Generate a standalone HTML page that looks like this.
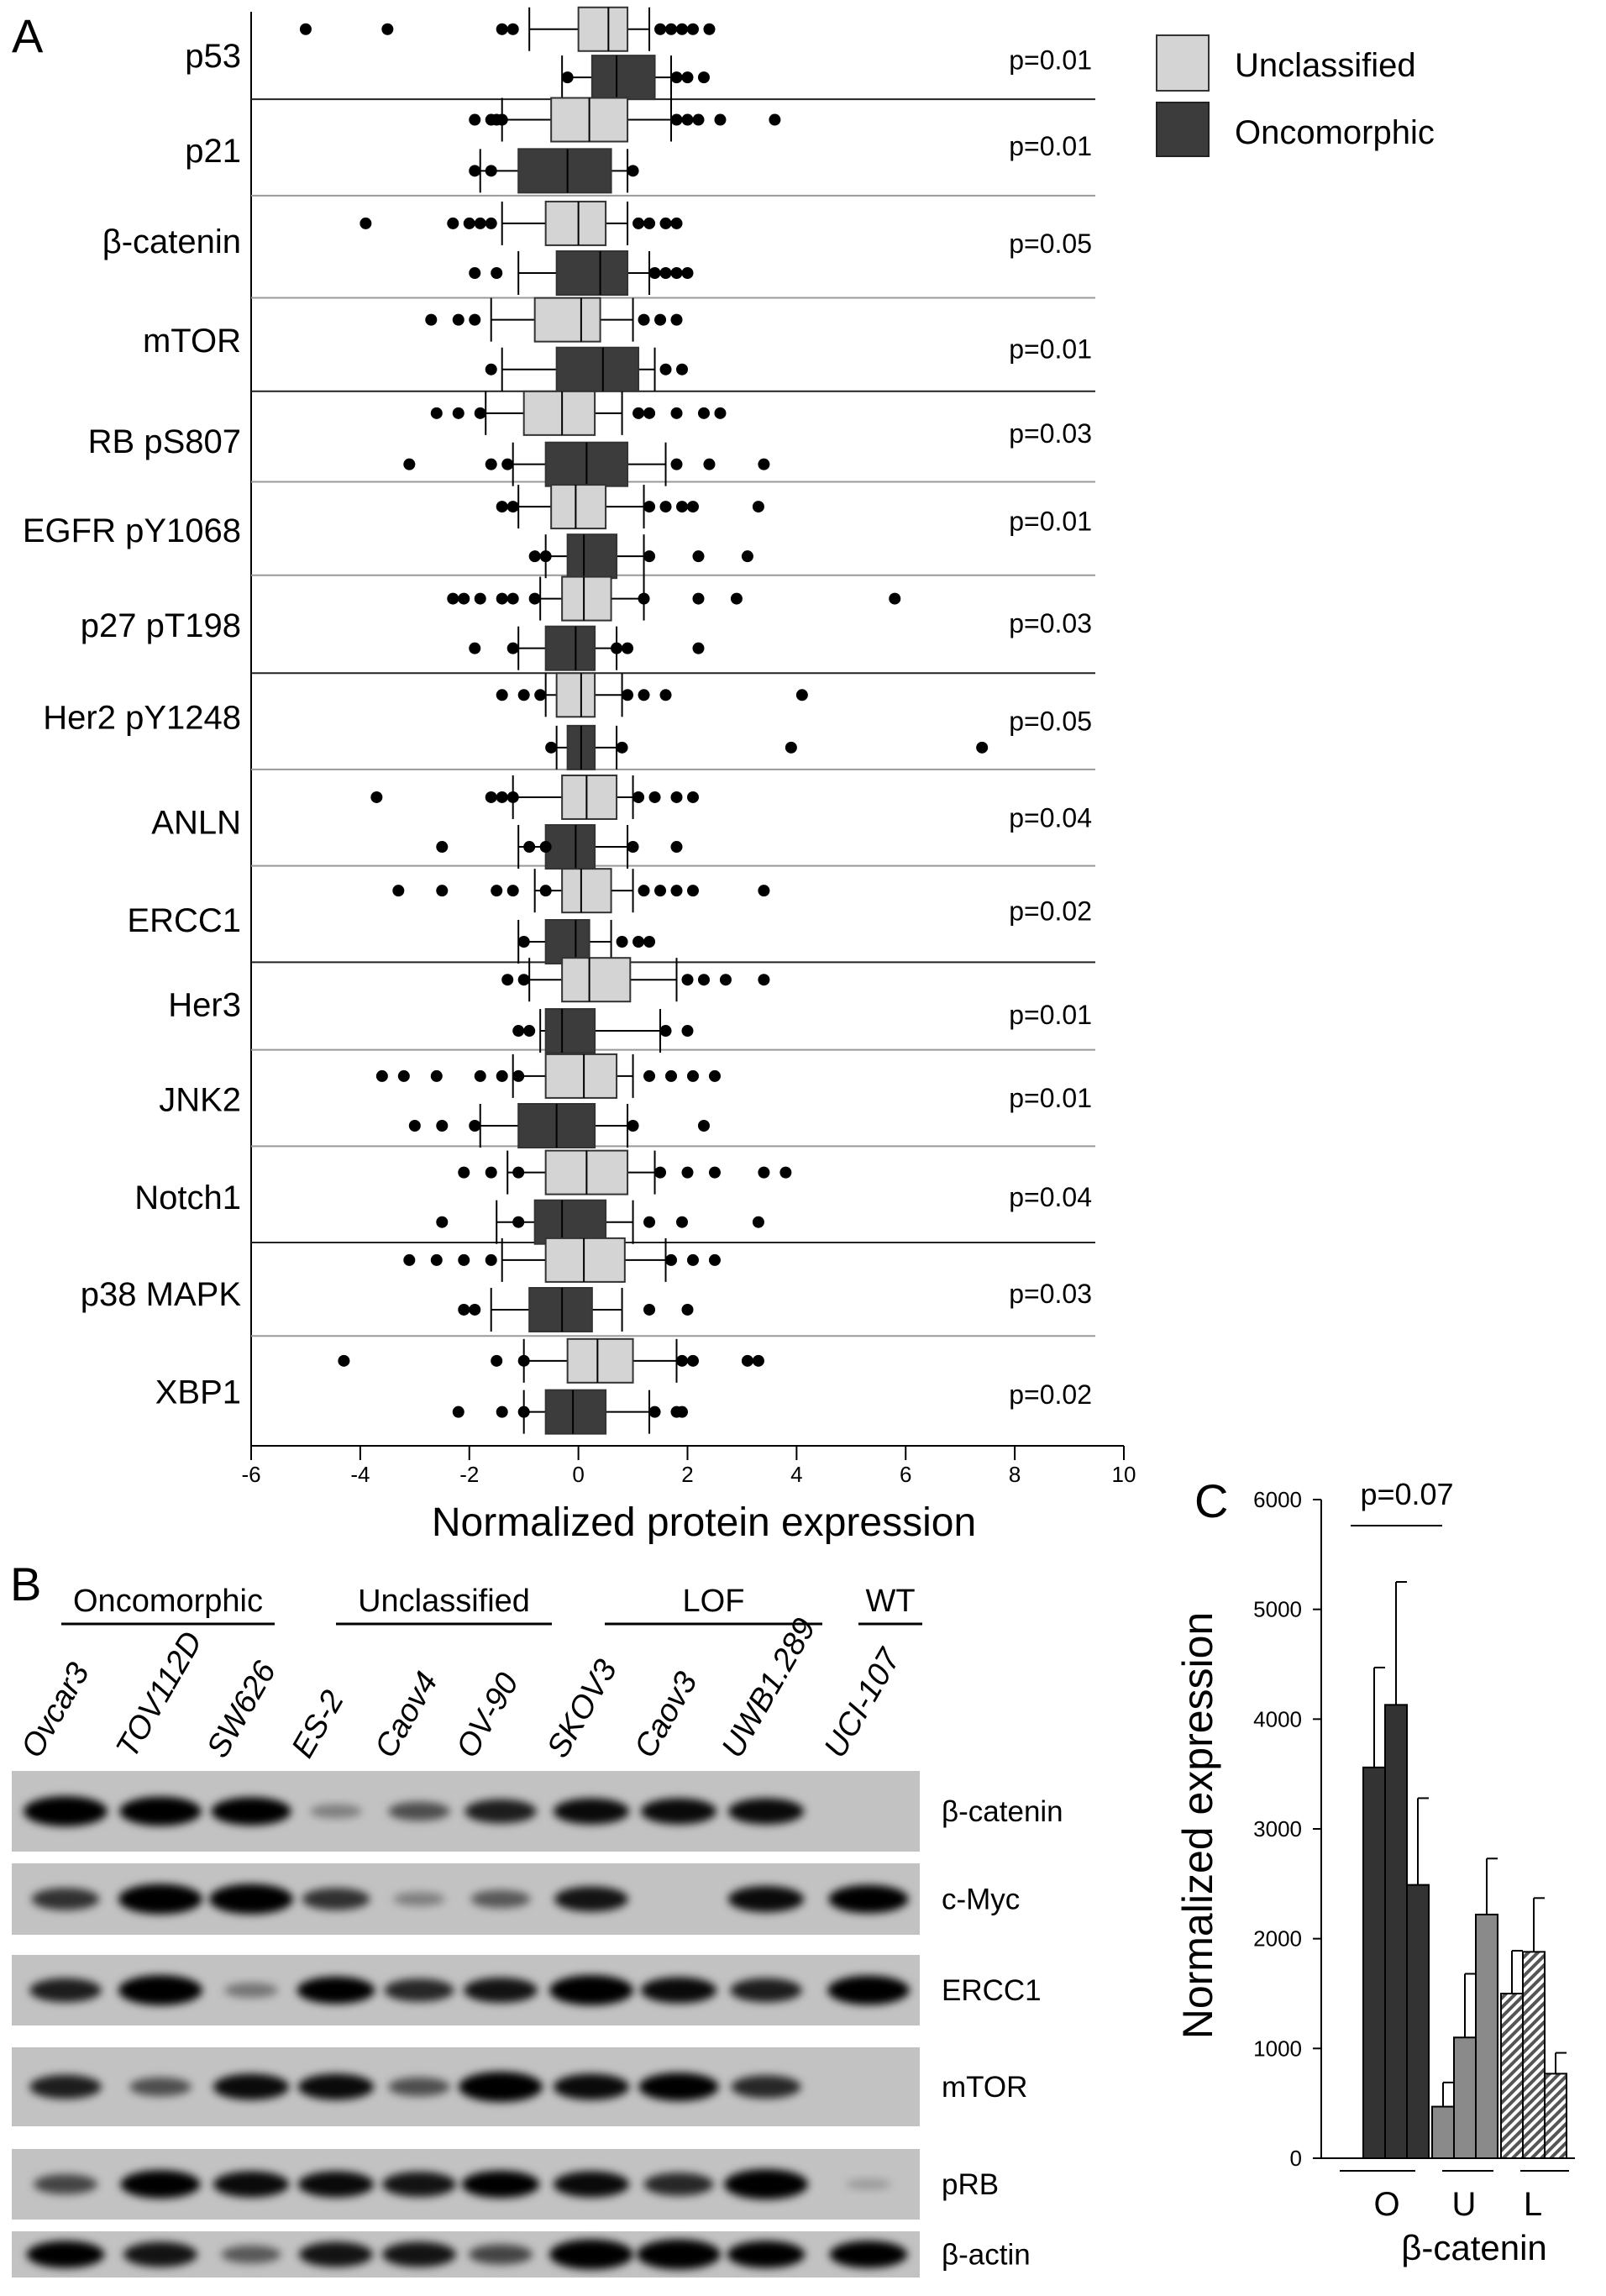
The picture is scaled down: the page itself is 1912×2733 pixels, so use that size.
<!DOCTYPE html>
<html><head><meta charset="utf-8"><style>
body{margin:0;background:#fff;}
svg{display:block;font-family:"Liberation Sans",sans-serif;}
</style></head><body>
<svg id="fig" width="1912" height="2733" viewBox="0 0 1912 2733" xmlns="http://www.w3.org/2000/svg">
<defs>
<filter id="blur" x="-50%" y="-50%" width="200%" height="200%"><feGaussianBlur stdDeviation="5"/></filter>
<pattern id="hatch" width="8" height="8" patternUnits="userSpaceOnUse" patternTransform="rotate(45)"><rect width="8" height="8" fill="#fff"/><rect width="4" height="8" fill="#555"/></pattern>
</defs>
<text x="14" y="62" font-size="56">A</text>
<text x="1422" y="1806" font-size="56">C</text>
<text x="12" y="1905" font-size="56">B</text>
<g id="pa"></g><g id="pb"></g><g id="pc"></g>
</svg>
<script>
const NS="http://www.w3.org/2000/svg";
function mk(p,t,a,txt){const e=document.createElementNS(NS,t);for(const k in a)e.setAttribute(k,a[k]);if(txt!==undefined)e.textContent=txt;p.appendChild(e);return e;}

// ---- Panel A data ----
const proteins=["p53","p21","β-catenin","mTOR","RB pS807","EGFR pY1068","p27 pT198","Her2 pY1248","ANLN","ERCC1","Her3","JNK2","Notch1","p38 MAPK","XBP1"];
const pvals=["p=0.01","p=0.01","p=0.05","p=0.01","p=0.03","p=0.01","p=0.03","p=0.05","p=0.04","p=0.02","p=0.01","p=0.01","p=0.04","p=0.03","p=0.02"];
// [whiskerLo, q1, median, q3, whiskerHi]
const uncStats=[[-0.9,0,0.55,0.9,1.3],[-1.4,-0.5,0.2,0.9,1.7],[-1.4,-0.6,0,0.5,0.9],[-1.6,-0.8,0.05,0.4,1.0],[-1.7,-1.0,-0.3,0.3,0.8],[-1.1,-0.5,-0.05,0.5,1.2],[-0.7,-0.3,0.1,0.6,1.2],[-0.6,-0.4,0.05,0.3,0.8],[-1.2,-0.3,0.15,0.7,1.0],[-0.8,-0.3,0.05,0.6,1.0],[-0.9,-0.3,0.2,0.95,1.8],[-1.2,-0.6,0.1,0.7,1.0],[-1.3,-0.6,0.15,0.9,1.4],[-1.4,-0.6,0.1,0.85,1.6],[-1.0,-0.2,0.35,1.0,1.8]];
const oncStats=[[-0.3,0.25,0.7,1.4,1.7],[-1.8,-1.1,-0.2,0.6,0.9],[-1.1,-0.4,0.4,0.9,1.3],[-1.4,-0.4,0.45,1.1,1.4],[-1.2,-0.6,0.15,0.9,1.6],[-0.6,-0.2,0.1,0.7,1.2],[-1.1,-0.6,-0.05,0.3,0.7],[-0.4,-0.2,0.05,0.3,0.7],[-1.1,-0.6,-0.05,0.3,0.9],[-1.1,-0.6,-0.05,0.2,0.6],[-0.7,-0.6,-0.3,0.3,1.5],[-1.8,-1.1,-0.4,0.3,0.9],[-1.5,-0.8,-0.3,0.5,1.0],[-1.6,-0.9,-0.3,0.25,0.8],[-1.0,-0.6,-0.1,0.5,1.3]];
const uncOut=[[-5,-3.5,-1.4,-1.2,1.5,1.7,1.9,2.1,2.4],[-1.9,-1.6,-1.5,-1.4,1.8,2.0,2.2,2.6,3.6],[-3.9,-2.3,-2.0,-1.8,-1.6,1.1,1.3,1.6,1.8],[-2.7,-2.2,-1.9,1.2,1.5,1.8],[-2.6,-2.2,-1.8,1.1,1.3,1.8,2.3,2.6],[-1.4,-1.2,1.3,1.6,1.9,2.1,3.3],[-2.3,-2.1,-1.8,-1.4,-1.2,-0.8,1.2,2.2,2.9,5.8],[-1.4,-1.0,-0.7,0.9,1.2,1.6,4.1],[-3.7,-1.6,-1.4,-1.2,1.1,1.4,1.8,2.1],[-3.3,-2.5,-1.5,-1.2,-0.6,1.2,1.5,1.8,2.1,3.4],[-1.3,-1.0,2.0,2.3,2.7,3.4],[-3.6,-3.2,-2.6,-1.8,-1.4,-1.1,1.3,1.7,2.1,2.5],[-2.1,-1.6,-1.1,1.5,2.0,2.5,3.4,3.8],[-3.1,-2.6,-2.1,-1.6,1.7,2.1,2.5],[-4.3,-1.5,-1.0,1.9,2.1,3.1,3.3]];
const oncOut=[[-0.2,1.8,2.0,2.3],[-1.9,-1.6,1.0],[-1.9,-1.5,1.4,1.6,1.8,2.0],[-1.6,1.6,1.9],[-3.1,-1.6,-1.3,1.8,2.4,3.4],[-0.8,-0.6,1.3,2.2,3.1],[-1.9,-1.2,0.7,0.9,2.2],[-0.5,0.8,3.9,7.4],[-2.5,-0.9,-0.6,1.0,1.8],[-1.0,0.8,1.1,1.3],[-1.1,-0.9,1.6,2.0],[-3.0,-2.5,-1.9,1.0,2.3],[-2.5,-1.1,1.3,1.9,3.3],[-2.1,-1.9,1.3,2.0],[-2.2,-1.4,-1.0,1.4,1.8,1.9]];
const xTicks=[-6,-4,-2,0,2,4,6,8,10];
const S=1.738;
const uncY=[20,82,153,219,283,347,410,476,546,610,671,737,803,863,932].map(v=>v*S);
const oncY=[53,117,187,253,318,381,444,512,580,645,706,771,837,897,967].map(v=>v*S);
const labY=[38,103,165,233,302,363,428,491,563,630,688,753,820,886,953].map(v=>v*S);
const pY=[41,100,167,239,297,357,427,494,560,624,695,752,820,886,955].map(v=>v*S);
const sepY=[68,134,204,268,330,394,461,527,593,659,719,785,851,915].map(v=>v*S);

const X=v=>299+(v+6)*(1039/16);
const A=document.getElementById('pa');
let e;
e=mk(A,'line',{x1:299,y1:14,x2:299,y2:1721,stroke:'#000','stroke-width':2});

e=mk(A,'line',{x1:299,y1:1721,x2:1338,y2:1721,stroke:'#000','stroke-width':2});

sepY.forEach((y,i)=>{e=mk(A,'line',{x1:299,y1:y,x2:1304,y2:y,stroke:(i%3==0?'#222':'#999'),'stroke-width':2});
});
xTicks.forEach(t=>{const x=X(t);
e=mk(A,'line',{x1:x,y1:1721,x2:x,y2:1738,stroke:'#000','stroke-width':2});

e=mk(A,'text',{x:x,y:1764,'font-size':26,'text-anchor':'middle'},String(t));
});
e=mk(A,'text',{x:838,y:1828,'font-size':48,'text-anchor':'middle'},'Normalized protein expression');

function box(st,outs,cy,fill,name){
  const g=mk(A,'g',{});
  
  const h=52;
  mk(g,'line',{x1:X(st[0]),x2:X(st[4]),y1:cy,y2:cy,stroke:'#000','stroke-width':2});
  mk(g,'line',{x1:X(st[0]),x2:X(st[0]),y1:cy-h/2,y2:cy+h/2,stroke:'#000','stroke-width':2});
  mk(g,'line',{x1:X(st[4]),x2:X(st[4]),y1:cy-h/2,y2:cy+h/2,stroke:'#000','stroke-width':2});
  mk(g,'rect',{x:X(st[1]),y:cy-h/2,width:X(st[3])-X(st[1]),height:h,fill:fill,stroke:'#333','stroke-width':2});
  mk(g,'line',{x1:X(st[2]),x2:X(st[2]),y1:cy-h/2,y2:cy+h/2,stroke:'#000','stroke-width':2});
  outs.forEach(o=>{const c=mk(g,'circle',{cx:X(o),cy:cy,r:7,fill:'#000'});
  });
}
proteins.forEach((p,i)=>{
  box(uncStats[i],uncOut[i],uncY[i],'#d4d4d4','box-unclassified');
  box(oncStats[i],oncOut[i],oncY[i],'#3c3c3c','box-oncomorphic');
  e=mk(A,'text',{x:287,y:labY[i]+14,'font-size':40,'text-anchor':'end'},p);
  
  e=mk(A,'text',{x:1300,y:pY[i]+11,'font-size':32,'text-anchor':'end'},pvals[i]);
  
});
e=mk(A,'rect',{x:1377,y:42,width:62,height:66,fill:'#d4d4d4',stroke:'#333','stroke-width':2});

e=mk(A,'rect',{x:1377,y:122,width:62,height:64,fill:'#3c3c3c',stroke:'#222','stroke-width':2});

e=mk(A,'text',{x:1470,y:91,'font-size':40},'Unclassified');

e=mk(A,'text',{x:1470,y:171,'font-size':40},'Oncomorphic');


// ---- Panel B ----
const B=document.getElementById('pb');
const groups=["Oncomorphic","Unclassified","LOF","WT"];
const groupX=[[73,327],[400,657],[720,979],[1022,1098]];
groups.forEach((g,i)=>{
  e=mk(B,'text',{x:(groupX[i][0]+groupX[i][1])/2,y:1918,'font-size':38,'text-anchor':'middle'},g);
  
  e=mk(B,'line',{x1:groupX[i][0],x2:groupX[i][1],y1:1933,y2:1933,stroke:'#000','stroke-width':3});
  
});
const lines=["Ovcar3","TOV112D","SW626","ES-2","Caov4","OV-90","SKOV3","Caov3","UWB1.289","UCI-107"];
const laneX=[78,191,299,400,499,596,704,808,912,1034];
lines.forEach((l,i)=>{
  e=mk(B,'text',{x:laneX[i]-32,y:2095,'font-size':38,'font-style':'italic',transform:`rotate(-60 ${laneX[i]-32} 2095)`},l);
  
});
const blots=["β-catenin","c-Myc","ERCC1","mTOR","pRB","β-actin"];
const blotTop=[2108,2218,2327,2437,2558,2656];
const blotH=[96,85,84,94,84,55];
const bandI=[[1,0.95,0.9,0.2,0.45,0.7,0.8,0.8,0.8,0],[0.6,1,1,0.6,0.2,0.4,0.75,0,0.8,0.9],[0.7,1,0.25,0.85,0.65,0.75,1,0.8,0.7,0.95],[0.7,0.45,0.8,0.8,0.45,1,0.8,0.9,0.65,0],[0.5,0.9,0.8,0.8,0.75,0.85,0.8,0.65,1,0.05],[0.85,0.75,0.4,0.75,0.75,0.5,1,1,0.85,0.85]];
blots.forEach((b,r)=>{
  const g=mk(B,'g',{});
  
  mk(g,'rect',{x:14,y:blotTop[r],width:1081,height:blotH[r],fill:'#c2c2c2'});
  const cy=blotTop[r]+blotH[r]/2;
  bandI[r].forEach((v,i)=>{
    if(v<0.03)return;
    const bd=mk(g,'ellipse',{cx:laneX[i],cy:cy,rx:26+24*v,ry:6+12*v,fill:'#000','fill-opacity':Math.min(1,0.15+v),filter:'url(#blur)'});
    
  });
  e=mk(B,'text',{x:1121,y:cy+12,'font-size':35},b);
  
});

// ---- Panel C ----
const C=document.getElementById('pc');
const cVals=[3560,4130,2490,470,1100,2220,1500,1880,770];
const cErr=[4470,5250,3280,690,1680,2730,1890,2370,960];
const cTicks=[0,1000,2000,3000,4000,5000,6000];
const cCats=["O","U","L"];
const Y=v=>2569-v*(784/6000);
e=mk(C,'line',{x1:1573,y1:Y(6000),x2:1573,y2:2569,stroke:'#000','stroke-width':2});

e=mk(C,'line',{x1:1573,y1:2569,x2:1875,y2:2569,stroke:'#000','stroke-width':2});

cTicks.forEach(t=>{
  e=mk(C,'line',{x1:1563,x2:1573,y1:Y(t),y2:Y(t),stroke:'#000','stroke-width':2});
  
  e=mk(C,'text',{x:1550,y:Y(t)+9,'font-size':26,'text-anchor':'end'},String(t));
  
});
const bw=26;
cVals.forEach((v,i)=>{
  const x=1623+i*bw+Math.floor(i/3)*4;
  const fill=i<3?'#333':(i<6?'#8a8a8a':'url(#hatch)');
  e=mk(C,'rect',{x:x,y:Y(v),width:bw,height:2569-Y(v),fill:fill,stroke:'#000','stroke-width':2});
  
  e=mk(C,'line',{x1:x+bw/2,x2:x+bw/2,y1:Y(cErr[i]),y2:Y(v),stroke:'#000','stroke-width':2});
  
  mk(C,'line',{x1:x+bw/2,x2:x+bw,y1:Y(cErr[i]),y2:Y(cErr[i]),stroke:'#000','stroke-width':2});
});
const catX=[1651,1743,1825];const catL=[[1595,1685],[1717,1778],[1810,1868]];
cCats.forEach((c,i)=>{
  e=mk(C,'line',{x1:catL[i][0],x2:catL[i][1],y1:2584,y2:2584,stroke:'#000','stroke-width':2});
  
  e=mk(C,'text',{x:catX[i],y:2637,'font-size':40,'text-anchor':'middle'},c);
  
});
e=mk(C,'text',{x:1755,y:2690,'font-size':42,'text-anchor':'middle'},'β-catenin');

e=mk(C,'text',{x:1443,y:2173,'font-size':50,'text-anchor':'middle',transform:'rotate(-90 1443 2173)'},'Normalized  expression');

e=mk(C,'line',{x1:1608,x2:1717,y1:1816,y2:1816,stroke:'#000','stroke-width':2});

e=mk(C,'text',{x:1675,y:1791,'font-size':36,'text-anchor':'middle'},'p=0.07');

</script>
</body></html>
